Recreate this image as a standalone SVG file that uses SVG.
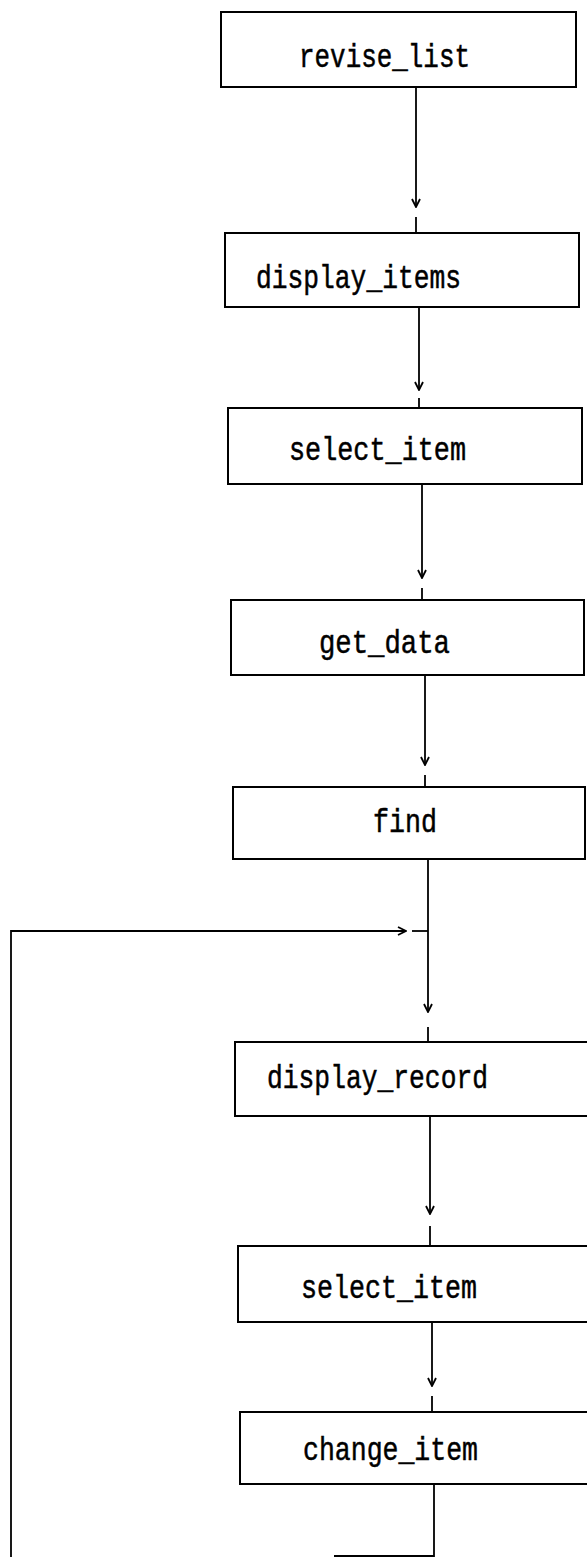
<svg xmlns="http://www.w3.org/2000/svg" width="587" height="1557" viewBox="0 0 587 1557">
  <style>
    .box { fill: #ffffff; stroke: #000000; stroke-width: 2; }
    .lbl { font-family: "Liberation Mono", "DejaVu Sans Mono", monospace; font-size: 33px; fill: #000000; stroke: #000000; stroke-width: 0.5; }
    .wire { fill: none; stroke: #000000; stroke-width: 1.8; }
  </style>
  <defs>
    <marker id="head" viewBox="0 0 10 10" refX="9" refY="5" markerWidth="10" markerHeight="10" markerUnits="userSpaceOnUse" orient="auto">
      <path d="M1,1 L9,5 L1,9" fill="none" stroke="#000000" stroke-width="1.8"/>
    </marker>
  </defs>

  <!-- process steps, top to bottom -->
  <g id="revise_list">
    <rect class="box" x="221" y="12" width="355" height="75"/>
    <text class="lbl" x="299" y="67" textLength="171" lengthAdjust="spacingAndGlyphs">revise_list</text>
  </g>
  <g id="display_items">
    <rect class="box" x="225" y="233" width="354" height="74"/>
    <text class="lbl" x="256" y="288" textLength="205" lengthAdjust="spacingAndGlyphs">display_items</text>
  </g>
  <g id="select_item_1">
    <rect class="box" x="228" y="408" width="354" height="76"/>
    <text class="lbl" x="289" y="460" textLength="177" lengthAdjust="spacingAndGlyphs">select_item</text>
  </g>
  <g id="get_data">
    <rect class="box" x="231" y="600" width="353" height="75"/>
    <text class="lbl" x="319" y="653" textLength="131" lengthAdjust="spacingAndGlyphs">get_data</text>
  </g>
  <g id="find">
    <rect class="box" x="233" y="787" width="352" height="72"/>
    <text class="lbl" x="373" y="832" textLength="64" lengthAdjust="spacingAndGlyphs">find</text>
  </g>
  <g id="display_record">
    <rect class="box" x="235" y="1042" width="360" height="74"/>
    <text class="lbl" x="267" y="1088" textLength="221" lengthAdjust="spacingAndGlyphs">display_record</text>
  </g>
  <g id="select_item_2">
    <rect class="box" x="238" y="1246" width="360" height="76"/>
    <text class="lbl" x="301" y="1298" textLength="176" lengthAdjust="spacingAndGlyphs">select_item</text>
  </g>
  <g id="change_item">
    <rect class="box" x="240" y="1412" width="360" height="72"/>
    <text class="lbl" x="303" y="1460" textLength="175" lengthAdjust="spacingAndGlyphs">change_item</text>
  </g>

  <!-- flow lines: each ends in an open head, then a short stub into the next step -->
  <g id="connectors">
    <path class="wire" d="M416,87 V207" marker-end="url(#head)"/>
    <path class="wire" d="M416,217 V233"/>

    <path class="wire" d="M419,307 V390" marker-end="url(#head)"/>
    <path class="wire" d="M419,398 V408"/>

    <path class="wire" d="M422,484 V578" marker-end="url(#head)"/>
    <path class="wire" d="M422,588 V600"/>

    <path class="wire" d="M425,675 V765" marker-end="url(#head)"/>
    <path class="wire" d="M425,775 V787"/>

    <path class="wire" d="M428,859 V1012" marker-end="url(#head)"/>
    <path class="wire" d="M428,1027 V1042"/>

    <path class="wire" d="M430,1116 V1214" marker-end="url(#head)"/>
    <path class="wire" d="M430,1226 V1246"/>

    <path class="wire" d="M432,1322 V1386" marker-end="url(#head)"/>
    <path class="wire" d="M432,1396 V1412"/>

    <!-- loop back from change_item to display_record -->
    <path class="wire" d="M434,1484 V1556 H334"/>
    <path class="wire" d="M11,1557 V931 H406" marker-end="url(#head)"/>
    <path class="wire" d="M412,931 H428"/>
  </g>
</svg>
